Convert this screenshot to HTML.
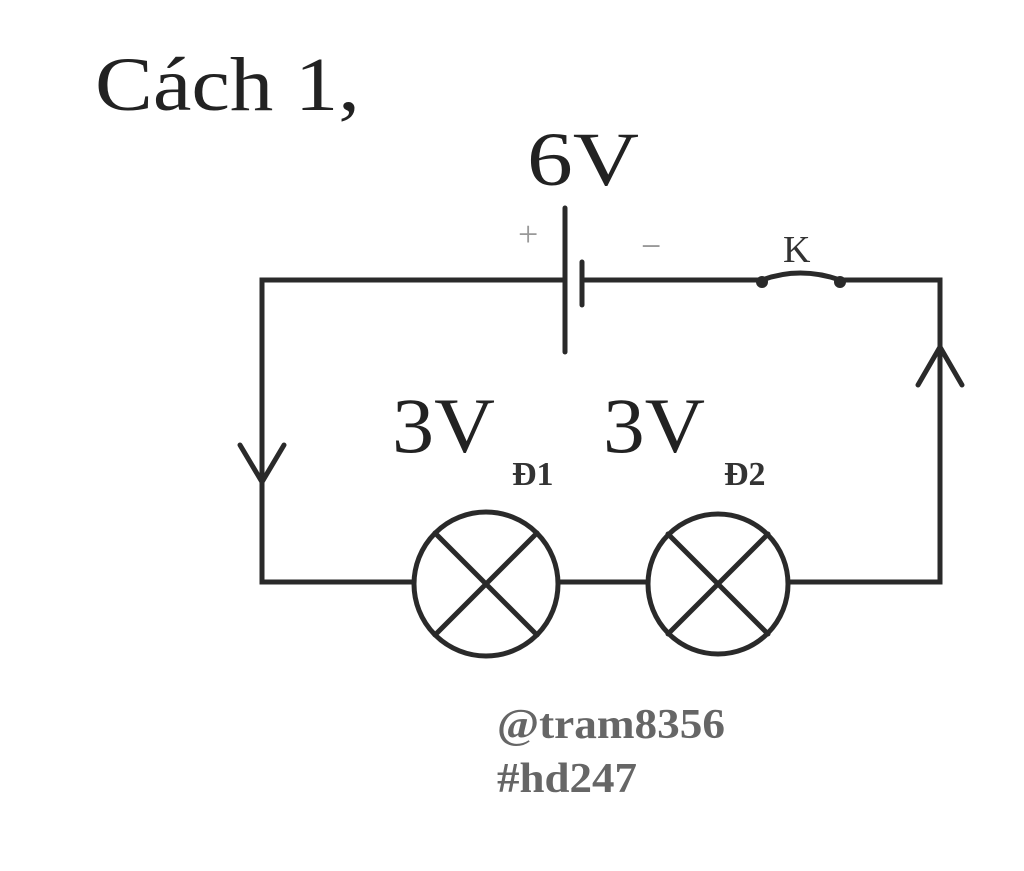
<!DOCTYPE html>
<html><head><meta charset="utf-8"><style>
html,body{margin:0;padding:0;background:#fff;}
svg{display:block;}
text{font-family:"Liberation Serif",serif;}
</style></head><body>
<svg width="1024" height="871" viewBox="0 0 1024 871" xmlns="http://www.w3.org/2000/svg">
<g stroke="#2a2a2a" stroke-width="5" fill="none" stroke-linecap="round">
<path d="M565 280 H262 V582 H414"/>
<path d="M582 280 H760"/>
<path d="M842 280 H940 V582 H790"/>
<path d="M558 582 H648"/>
<line x1="565" y1="208" x2="565" y2="352"/>
<line x1="582" y1="262" x2="582" y2="305"/>
<path d="M762 280 Q800 266 840 280"/>
<circle cx="486" cy="584" r="72"/>
<circle cx="718" cy="584" r="70"/>
<path d="M435 533 L537 635 M537 533 L435 635"/>
<path d="M668 534 L768 634 M768 534 L668 634"/>
<path d="M240 445 L262 482 L284 445"/>
<path d="M918 385 L940 347 L962 385"/>
</g>
<circle cx="762" cy="282" r="6" fill="#2a2a2a"/>
<circle cx="840" cy="282" r="6" fill="#2a2a2a"/>
<text x="95" y="110" font-size="76" fill="#222" textLength="265" lengthAdjust="spacingAndGlyphs">Cách 1,</text>
<text x="527" y="185" font-size="76" fill="#222" textLength="112" lengthAdjust="spacingAndGlyphs">6V</text>
<text x="518" y="246" font-size="36" fill="#999">+</text>
<text x="641" y="258" font-size="36" fill="#999">−</text>
<text x="783" y="262" font-size="38" fill="#333">K</text>
<text x="392" y="452" font-size="78" fill="#222" textLength="103" lengthAdjust="spacingAndGlyphs">3V</text>
<text x="512" y="485" font-size="34" font-weight="bold" fill="#333">Đ1</text>
<text x="603" y="452" font-size="78" fill="#222" textLength="102" lengthAdjust="spacingAndGlyphs">3V</text>
<text x="724" y="485" font-size="34" font-weight="bold" fill="#333">Đ2</text>
<text x="497" y="738" font-size="42" font-weight="bold" fill="#666" textLength="228" lengthAdjust="spacingAndGlyphs">@tram8356</text>
<text x="497" y="792" font-size="42" font-weight="bold" fill="#666" textLength="140" lengthAdjust="spacingAndGlyphs">#hd247</text>
</svg>
</body></html>
